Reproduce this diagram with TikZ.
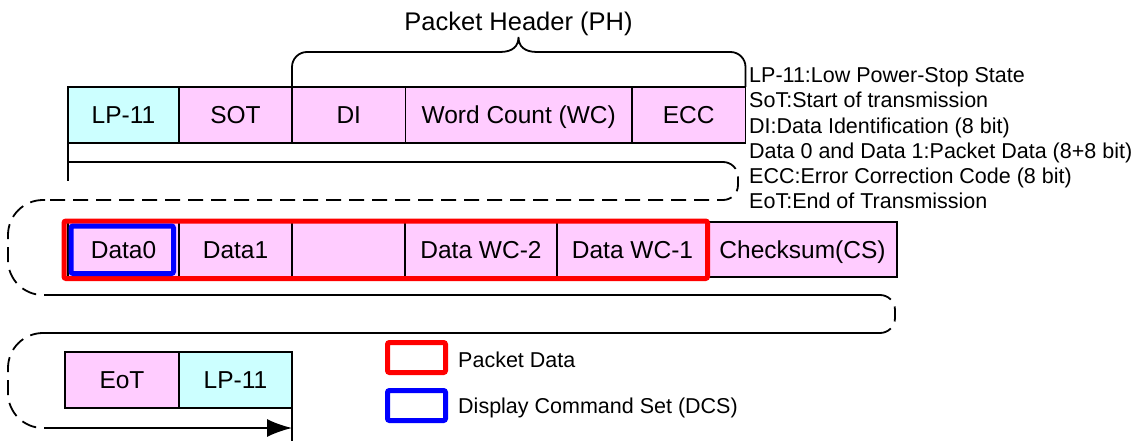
\documentclass[tikz,border=0pt]{standalone}
\usepackage{fontspec}
\setmainfont{Liberation Sans}
\usetikzlibrary{arrows.meta}
\definecolor{lpcyan}{RGB}{204,255,255}
\definecolor{pktpink}{RGB}{255,204,255}
\definecolor{pdred}{RGB}{255,0,0}
\definecolor{dcsblue}{RGB}{0,0,255}

\begin{document}
\begin{tikzpicture}[x=1pt,y=-1pt,
    cell/.style={rectangle,draw=black,line width=1.3pt,minimum height=56pt,
      inner sep=0pt,outer sep=0pt,text height=17.5pt,text depth=0pt,
      font=\fontsize{24.5}{28}\selectfont},
    lpcell/.style={cell,fill=lpcyan},
    pkcell/.style={cell,fill=pktpink},
    pdframe/.style={rectangle,draw=pdred,line width=5pt,rounded corners=2pt,inner sep=0pt},
    dcsframe/.style={rectangle,draw=dcsblue,line width=5pt,rounded corners=2pt,inner sep=0pt},
    wrapline/.style={line width=1.8pt},
    wrapdash/.style={line width=1.8pt,dash pattern=on 15pt off 8pt},
    brace/.style={line width=1.8pt},
    title/.style={font=\fontsize{25.5}{30}\selectfont,inner sep=0pt,anchor=base},
    note/.style={font=\fontsize{21.5}{25}\selectfont,inner sep=0pt,anchor=base west}
  ]
    \path[use as bounding box,fill=white] (0,0) rectangle (1137,441);

    % packet header row
    \node[lpcell,minimum width=111pt] (lpa) at (123.5,115) {LP-11};
    \node[pkcell,minimum width=113pt] (sot) at (235.5,115) {SOT};
    \node[pkcell,minimum width=113.5pt] (di) at (348.75,115) {DI};
    \node[pkcell,minimum width=226.5pt] (wc) at (518.75,115) {Word Count (WC)};
    \node[pkcell,minimum width=113.5pt] (ecc) at (688.75,115) {ECC};

    \node[title] (phtitle) at (518.5,31) {Packet Header (PH)};
    \draw[brace] (di.north west) -- (292,67) to[out=90,in=180] (307,52) -- (500,52)
      .. controls (513,52) and (518.5,46) .. (518.5,37)
      .. controls (518.5,46) and (524,52) .. (537,52) -- (730.5,52)
      to[out=0,in=90] (745.5,67) -- (ecc.north east);

    % payload row
    \node[pkcell,minimum width=111pt,minimum height=55pt] (dzero) at (123.5,249.5) {Data0};
    \node[pkcell,minimum width=113pt,minimum height=55pt] (done) at (235.5,249.5) {Data1};
    \node[pkcell,minimum width=113pt,minimum height=55pt] (dgap) at (348.5,249.5) {};
    \node[pkcell,minimum width=152pt,minimum height=55pt] (dwcb) at (481,249.5) {Data WC-2};
    \node[pkcell,minimum width=151pt,minimum height=55pt] (dwca) at (632.5,249.5) {Data WC-1};
    \node[pkcell,minimum width=189pt,minimum height=55pt] (csum) at (802.5,249.5) {Checksum(CS)};

    \node[pdframe,minimum width=643.5pt,minimum height=57.5pt] (pdbox) at (385.75,249.75) {};
    \node[dcsframe,minimum width=102.5pt,minimum height=47.5pt] (dcsbox) at (122.25,249.75) {};

    % end row
    \node[pkcell,minimum width=114pt] (eot) at (122,380) {EoT};
    \node[lpcell,minimum width=113pt] (lpb) at (235.5,380) {LP-11};

    % wrap of the packet over the lines
    \coordinate (ticka) at (68,181);
    \coordinate (wrapa) at (68,162);
    \coordinate (wrapb) at (723,162);
    \coordinate (wrapc) at (45,200);
    \coordinate (wrapd) at (45,295);
    \coordinate (wrape) at (877,295);
    \coordinate (wrapf) at (877,333);
    \coordinate (wrapg) at (45,333);
    \coordinate (wraph) at (45,428);
    \coordinate (endarrow) at (292,428);
    \coordinate (endtick) at (292,441);

    \draw[wrapline] (lpa.south west) -- (ticka);
    \draw[wrapline] (wrapa) -- (wrapb);
    \draw[wrapdash,rounded corners=15pt] (wrapb) -| (738,200) -- (wrapc);
    \draw[wrapdash,rounded corners=35pt] (wrapc) -| (8,295) -- (wrapd);
    \draw[wrapline] (wrapd) -- (wrape);
    \draw[wrapdash,rounded corners=15pt] (wrape) -| (895,333) -- (wrapf);
    \draw[wrapline] (wrapf) -- (wrapg);
    \draw[wrapdash,rounded corners=35pt] (wrapg) -| (8,428) -- (wraph);
    \draw[wrapline,-{Latex[length=25pt,width=18pt]}] (wraph) -- (endarrow);
    \draw[wrapline] (lpb.south east) -- (endtick);

    % legends
    \node[pdframe,minimum width=58pt,minimum height=30pt] (pdkey) at (416.5,357.5) {};
    \node[note] (pdtext) at (458,367) {Packet Data};
    \node[dcsframe,minimum width=58pt,minimum height=30pt] (dcskey) at (416.5,405.5) {};
    \node[note] (dcstext) at (458,413) {Display Command Set (DCS)};

    \node[note] (nlp) at (749,83) {LP-11:Low Power-Stop State};
    \node[note] (nsot) at (749,108) {SoT:Start of transmission};
    \node[note] (ndi) at (749,133) {DI:Data Identification (8 bit)};
    \node[note] (ndata) at (749,158) {Data 0 and Data 1:Packet Data (8+8 bit)};
    \node[note] (necc) at (749,183) {ECC:Error Correction Code (8 bit)};
    \node[note] (neot) at (749,208) {EoT:End of Transmission};
  \end{tikzpicture}
\end{document}
